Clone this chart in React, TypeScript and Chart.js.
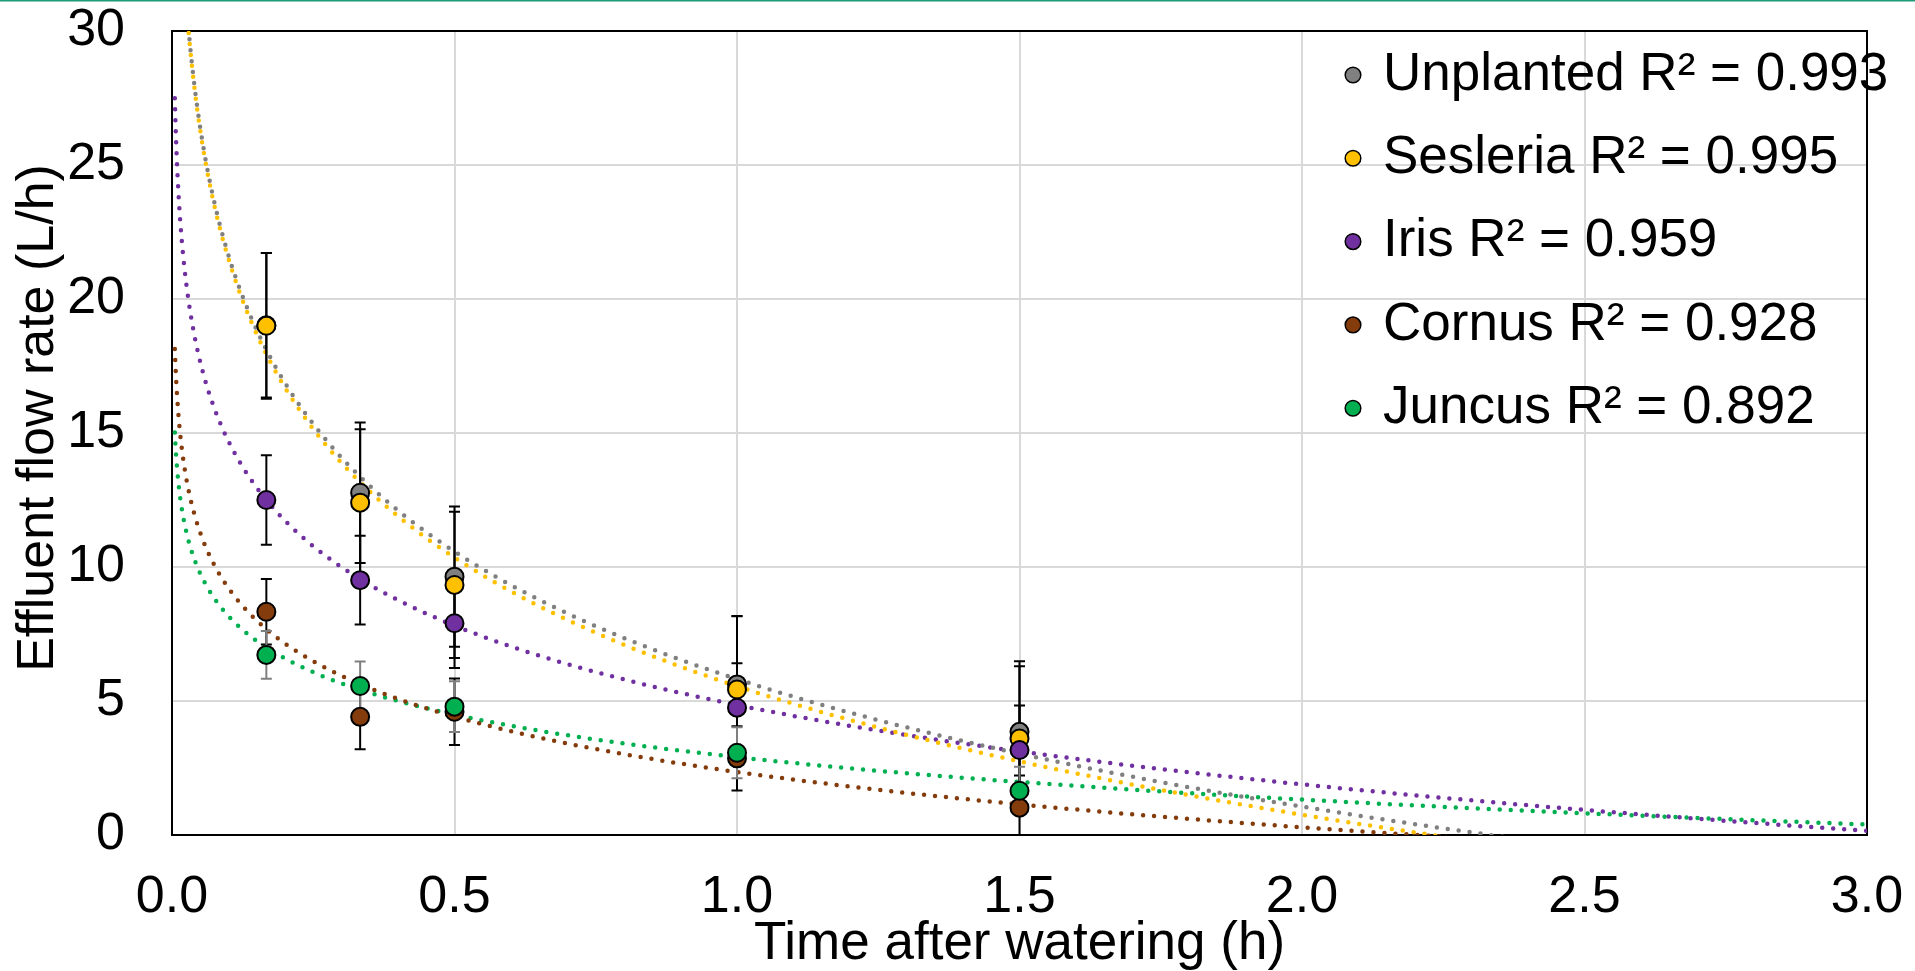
import React, { useEffect, useRef } from 'react';
import { Chart, registerables } from 'chart.js';

Chart.register(...registerables);

// ---- data ----
const timeH = [0.167, 0.333, 0.5, 1.0, 1.5];

const seriesNames = ['Unplanted', 'Sesleria', 'Iris', 'Cornus', 'Juncus'];
const r2Labels = ['0.993', '0.995', '0.959', '0.928', '0.892'];
const seriesColors = ['#808080', '#FFC000', '#7030A0', '#843C0C', '#00B050'];
const errorColors = ['#000000', '#000000', '#000000', '#000000', '#7F7F7F'];
const dashOffsets = [5.5, 0, 0, 0, 0];

const unplanted = [19.02, 12.77, 9.64, 5.62, 3.85];
const sesleria = [19.0, 12.4, 9.33, 5.43, 3.6];
const iris = [12.5, 9.51, 7.9, 4.75, 3.17];
const cornus = [8.33, 4.41, 4.6, 2.86, 1.02];
const juncus = [6.72, 5.56, 4.79, 3.07, 1.65];

const unplantedErr = [2.7, 2.62, 2.62, 2.55, 2.63];
const sesleriaErr = [2.72, 2.74, 2.73, 2.73, 2.7];
const irisErr = [1.67, 1.66, 1.67, 1.66, 1.66];
const cornusErr = [1.22, 1.21, 1.24, 1.2, 1.2];
const juncusErr = [0.89, 0.91, 0.95, 0.95, 0.9];

const xTickLabels = ['0.0', '0.5', '1.0', '1.5', '2.0', '2.5', '3.0'];
const yTickLabels = ['0', '5', '10', '15', '20', '25', '30'];

const xTitle = 'Time after watering (h)';
const yTitle = 'Effluent flow rate (L/h)';

// trendline range (Excel forecast range)
const trendStart = 0.005;
const trendEnd = 3.0;

const allValues = [unplanted, sesleria, iris, cornus, juncus];
const allErrors = [unplantedErr, sesleriaErr, irisErr, cornusErr, juncusErr];

const FONT = '"Liberation Sans", Arial, sans-serif';

// least-squares logarithmic fit y = a ln(x) + b (as Excel's trendline)
function logFit(xs: number[], ys: number[]) {
  const lx = xs.map((v) => Math.log(v));
  const n = xs.length;
  const mx = lx.reduce((s, v) => s + v, 0) / n;
  const my = ys.reduce((s, v) => s + v, 0) / n;
  let sxy = 0;
  let sxx = 0;
  for (let i = 0; i < n; i++) {
    sxy += (lx[i] - mx) * (ys[i] - my);
    sxx += (lx[i] - mx) * (lx[i] - mx);
  }
  const a = sxy / sxx;
  return { a, b: my - a * mx };
}

function trendPoints(ys: number[]) {
  const { a, b } = logFit(timeH, ys);
  const pts: { x: number; y: number }[] = [];
  const N = 600;
  for (let i = 0; i <= N; i++) {
    const x = trendStart * Math.pow(trendEnd / trendStart, i / N);
    pts.push({ x, y: a * Math.log(x) + b });
  }
  return pts;
}

const errorBarPlugin = {
  id: 'errorBars',
  beforeDatasetDraw(chart: any, args: any) {
    const ds = chart.data.datasets[args.index];
    if (!ds.drawErrors) return;
    const { ctx, chartArea } = chart;
    const xs = chart.scales.x;
    const ys = chart.scales.y;
    ctx.save();
    ctx.beginPath();
    ctx.rect(chartArea.left, chartArea.top, chartArea.right - chartArea.left, chartArea.bottom - chartArea.top);
    ctx.clip();
    ctx.lineWidth = 2;
    allValues.forEach((vals, s) => {
      ctx.strokeStyle = errorColors[s];
      vals.forEach((v, i) => {
        const px = xs.getPixelForValue(timeH[i]);
        const top = ys.getPixelForValue(v + allErrors[s][i]);
        const bot = ys.getPixelForValue(v - allErrors[s][i]);
        ctx.beginPath();
        ctx.moveTo(px, top);
        ctx.lineTo(px, bot);
        ctx.moveTo(px - 5.5, top);
        ctx.lineTo(px + 5.5, top);
        ctx.moveTo(px - 5.5, bot);
        ctx.lineTo(px + 5.5, bot);
        ctx.stroke();
      });
    });
    ctx.restore();
  },
};

const framePlugin = {
  id: 'frame',
  beforeDatasetsDraw(chart: any) {
    const { ctx, chartArea } = chart;
    ctx.save();
    ctx.strokeStyle = '#000';
    ctx.lineWidth = 2;
    ctx.strokeRect(chartArea.left, chartArea.top, chartArea.right - chartArea.left, chartArea.bottom - chartArea.top);
    ctx.restore();
  },
  afterDraw(chart: any) {
    const { ctx } = chart;
    ctx.save();
    ctx.fillStyle = '#1E9B7B';
    ctx.fillRect(0, 0, chart.width, 1.5);
    ctx.restore();
  },
};

const yTitlePlugin = {
  id: 'yTitle',
  afterDraw(chart: any) {
    const { ctx } = chart;
    ctx.save();
    ctx.translate(53, 418);
    ctx.rotate(-Math.PI / 2);
    ctx.font = `52px ${FONT}`;
    ctx.fillStyle = '#000';
    ctx.textAlign = 'center';
    ctx.textBaseline = 'alphabetic';
    ctx.fillText(yTitle, 0, 0);
    ctx.restore();
  },
};

const legendPlugin = {
  id: 'insideLegend',
  afterDraw(chart: any) {
    const { ctx, chartArea } = chart;
    ctx.save();
    ctx.font = `53px ${FONT}`;
    ctx.textBaseline = 'middle';
    ctx.textAlign = 'left';
    seriesNames.forEach((name, i) => {
      const y = chartArea.top + 44 + i * 83.3;
      const mx = chartArea.right - 514;
      ctx.beginPath();
      ctx.arc(mx, y, 7.8, 0, Math.PI * 2);
      ctx.fillStyle = seriesColors[i];
      ctx.fill();
      ctx.lineWidth = 1.5;
      ctx.strokeStyle = '#000';
      ctx.stroke();
      ctx.fillStyle = '#000';
      ctx.fillText(`${name} R\u00B2 = ${r2Labels[i]}`, chartArea.right - 484, y);
    });
    ctx.restore();
  },
};

function zeroPad(scale: any) {
  scale.paddingTop = 0;
  scale.paddingBottom = 0;
  scale.paddingLeft = 0;
  scale.paddingRight = 0;
}

export default function App() {
  const ref = useRef<HTMLCanvasElement | null>(null);

  useEffect(() => {
    document.body.style.margin = '0';
    document.body.style.overflow = 'hidden';
    const canvas = ref.current;
    if (!canvas) return;

    const trendSets = allValues.map((vals, s) => ({
      label: seriesNames[s] + ' trend',
      data: trendPoints(vals),
      showLine: true,
      borderColor: seriesColors[s],
      backgroundColor: seriesColors[s],
      borderWidth: 4.5,
      borderDash: [0, 11],
      borderDashOffset: dashOffsets[s],
      borderCapStyle: 'round',
      pointRadius: 0,
      tension: 0,
      fill: false,
      order: 10,
    }));

    const pointSets = allValues.map((vals, s) => ({
      label: `${seriesNames[s]} R\u00B2 = ${r2Labels[s]}`,
      data: vals.map((v, i) => ({ x: timeH[i], y: v })),
      showLine: false,
      pointRadius: 9,
      pointBorderWidth: 2,
      pointBorderColor: '#000',
      pointBackgroundColor: seriesColors[s],
      backgroundColor: seriesColors[s],
      borderColor: '#000',
      order: 5 - s,
      drawErrors: s === 0,
    }));

    const tickFont = { family: FONT, size: 52, lineHeight: 1 };

    const chart = new Chart(canvas, {
      type: 'scatter',
      data: { datasets: [...trendSets, ...pointSets] as any },
      options: {
        responsive: false,
        animation: false,
        devicePixelRatio: 1,
        events: [],
        layout: { padding: { left: 0, top: 31, right: 48, bottom: 0 } },
        plugins: {
          legend: { display: false },
          tooltip: { enabled: false },
        },
        scales: {
          x: {
            type: 'linear',
            position: 'bottom',
            min: 0,
            max: 3,
            afterFit: (scale: any) => {
              scale.height = 136;
              zeroPad(scale);
            },
            ticks: {
              stepSize: 0.5,
              padding: 37,
              color: '#000',
              font: tickFont,
              maxRotation: 0,
              callback: (_v: any, i: number) => xTickLabels[i],
            },
            grid: { color: '#D9D9D9', lineWidth: 2, drawTicks: false },
            border: { display: true, color: '#000', width: 2 },
            title: {
              display: true,
              text: xTitle,
              color: '#000',
              font: { family: FONT, size: 53, lineHeight: 1.02 },
              padding: 0,
            },
          },
          y: {
            type: 'linear',
            min: 0,
            max: 30,
            afterFit: (scale: any) => {
              scale.width = 172;
              zeroPad(scale);
            },
            ticks: {
              stepSize: 5,
              padding: 47,
              color: '#000',
              font: tickFont,
              callback: (_v: any, i: number) => yTickLabels[i],
            },
            grid: { color: '#D9D9D9', lineWidth: 2, drawTicks: false },
            border: { display: true, color: '#000', width: 2 },
            title: { display: false },
          },
        },
      } as any,
      plugins: [framePlugin, errorBarPlugin, legendPlugin, yTitlePlugin],
    });

    return () => chart.destroy();
  }, []);

  return (
    <div style={{ width: 1915, height: 971, position: 'relative', background: '#fff' }}>
      <canvas ref={ref} width={1915} height={971} style={{ display: 'block' }} />
    </div>
  );
}
